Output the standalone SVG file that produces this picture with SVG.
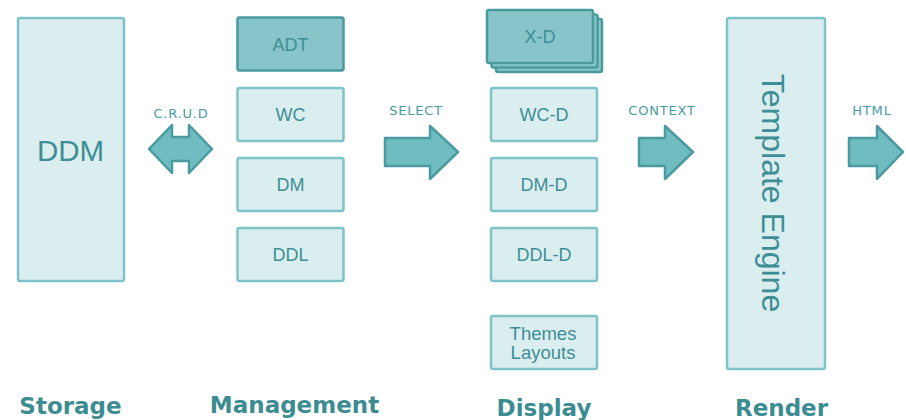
<svg xmlns="http://www.w3.org/2000/svg" width="906" height="420" viewBox="0 0 906 420">
<style>
.box{fill:#daedef;stroke:#7dc3c8;stroke-width:2.5}
.dark{fill:#88c5cb;stroke:#4b9a9e;stroke-width:2.5}
.t{font-family:"Liberation Sans",Arial,sans-serif;font-size:18px;fill:#3e8f95;text-anchor:middle}
.lbl{font-family:"DejaVu Sans",sans-serif;font-size:13px;letter-spacing:0.8px;fill:#4a9ba0;text-anchor:middle}
.hd{font-family:"DejaVu Sans",sans-serif;font-weight:bold;font-size:23px;fill:#3d8c91;text-anchor:middle}
.arr{fill:#6fbcc1;stroke:#4a9a9f;stroke-width:2.5;stroke-linejoin:round}
</style>
<rect width="906" height="420" fill="#ffffff"/>
<g id="ddm">
<rect class="box" x="18" y="18" width="106" height="263" rx="2"/>
<text class="t" x="70.5" y="161" style="font-size:29.5px">DDM</text>
</g>
<g id="adt">
<rect class="dark" x="237.5" y="17.5" width="106" height="53" rx="2"/>
<text class="t" x="290.5" y="50.5">ADT</text>
</g>
<g id="wc">
<rect class="box" x="237.5" y="88" width="106" height="53" rx="2"/>
<text class="t" x="290.5" y="121">WC</text>
</g>
<g id="dm">
<rect class="box" x="237.5" y="158" width="106" height="53" rx="2"/>
<text class="t" x="290.5" y="191">DM</text>
</g>
<g id="ddl">
<rect class="box" x="237.5" y="228" width="106" height="53" rx="2"/>
<text class="t" x="290.5" y="261">DDL</text>
</g>
<g id="xd">
<rect class="dark" x="496" y="19" width="106" height="53" rx="2"/>
<rect class="dark" x="491.5" y="14.5" width="106" height="53" rx="2"/>
<rect class="dark" x="487" y="10" width="106" height="53" rx="2"/>
<text class="t" x="540" y="43">X-D</text>
</g>
<g id="wcd">
<rect class="box" x="491" y="88" width="106" height="53" rx="2"/>
<text class="t" x="544" y="121">WC-D</text>
</g>
<g id="dmd">
<rect class="box" x="491" y="158" width="106" height="53" rx="2"/>
<text class="t" x="544" y="191">DM-D</text>
</g>
<g id="ddld">
<rect class="box" x="491" y="228" width="106" height="53" rx="2"/>
<text class="t" x="544" y="261">DDL-D</text>
</g>
<g id="themes">
<rect class="box" x="491" y="316" width="106" height="53" rx="2"/>
<text class="t" x="543" y="340" style="font-size:18.5px">Themes</text>
<text class="t" x="543" y="359" style="font-size:18.5px">Layouts</text>
</g>
<g id="engine">
<rect class="box" x="727" y="18" width="98" height="351" rx="2"/>
<text class="t" transform="translate(762,193) rotate(90)" style="font-size:32px">Template Engine</text>
</g>
<g id="connectors">
<path class="arr" d="M149,149 L172,125 L172,137 L189,137 L189,125 L212,149 L189,173 L189,161 L172,161 L172,173 Z"/>
<path class="arr" d="M385,138 L430,138 L430,126 L458,152 L430,179 L430,166 L385,166 Z"/>
<path class="arr" d="M639,138 L665,138 L665,126 L693,152 L665,179 L665,166 L639,166 Z"/>
<path class="arr" d="M849,138 L877,138 L877,126 L903,152 L877,179 L877,166 L849,166 Z"/>
<text class="lbl" x="181" y="117.5">C.R.U.D</text>
<text class="lbl" x="416" y="114.5">SELECT</text>
<text class="lbl" x="662" y="114.5">CONTEXT</text>
<text class="lbl" x="872" y="114.5">HTML</text>
</g>
<g id="headings">
<text class="hd" x="70.5" y="414">Storage</text>
<text class="hd" x="294.5" y="413">Management</text>
<text class="hd" x="544" y="416">Display</text>
<text class="hd" x="781.5" y="416">Render</text>
</g>
</svg>
